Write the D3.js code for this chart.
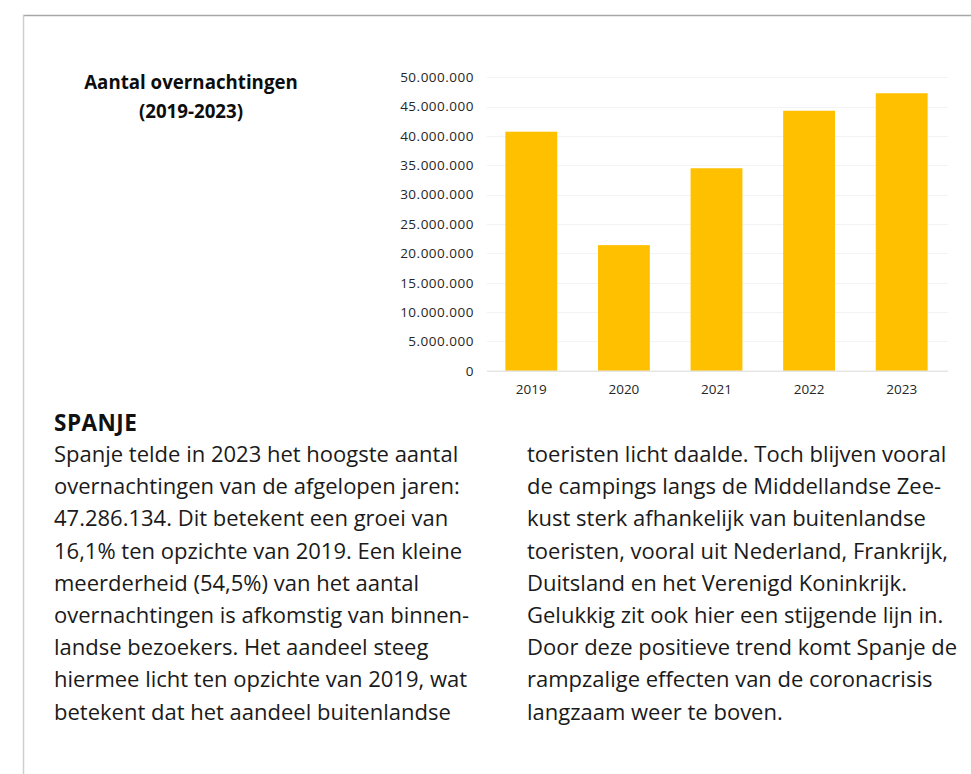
<!DOCTYPE html>
<meta charset="utf-8">
<script src="https://d3js.org/d3.v7.min.js"></script>
<style>
  body { margin: 0; background: #fff; }
  svg text { font-family: "Open Sans", sans-serif; }
</style>
<div id="my_dataviz"></div>
<script>

// data
var years = ["2019", "2020", "2021", "2022", "2023"];
var overnachtingen = [40730000, 21400000, 34500000, 44300000, 47286134];
var yTicks = [0, 5000000, 10000000, 15000000, 20000000, 25000000, 30000000, 35000000, 40000000, 45000000, 50000000];

var titleLines = ["Aantal overnachtingen", "(2019-2023)"];
var heading = "SPANJE";
var column1 = [
  "Spanje telde in 2023 het hoogste aantal",
  "overnachtingen van de afgelopen jaren:",
  "47.286.134. Dit betekent een groei van",
  "16,1% ten opzichte van 2019. Een kleine",
  "meerderheid (54,5%) van het aantal",
  "overnachtingen is afkomstig van binnen-",
  "landse bezoekers. Het aandeel steeg",
  "hiermee licht ten opzichte van 2019, wat",
  "betekent dat het aandeel buitenlandse"
];
var column2 = [
  "toeristen licht daalde. Toch blijven vooral",
  "de campings langs de Middellandse Zee-",
  "kust sterk afhankelijk van buitenlandse",
  "toeristen, vooral uit Nederland, Frankrijk,",
  "Duitsland en het Verenigd Koninkrijk.",
  "Gelukkig zit ook hier een stijgende lijn in.",
  "Door deze positieve trend komt Spanje de",
  "rampzalige effecten van de coronacrisis",
  "langzaam weer te boven."
];

var W = 971, H = 774;

var svg = d3.select("#my_dataviz")
  .append("svg")
    .attr("width", W)
    .attr("height", H);

// page frame (top + left rule)
svg.append("line")
  .attr("x1", 23).attr("x2", W).attr("y1", 15.5).attr("y2", 15.5)
  .style("stroke", "#a6a6a6").style("stroke-width", 1.5);
svg.append("line")
  .attr("x1", 23.5).attr("x2", 23.5).attr("y1", 15).attr("y2", H)
  .style("stroke", "#cfcfcf").style("stroke-width", 1.5);

// title
svg.selectAll("text.title")
  .data(titleLines)
  .enter()
  .append("text")
    .attr("class", "title")
    .attr("x", 191)
    .attr("y", function(d, i) { return 89 + i * 29; })
    .attr("text-anchor", "middle")
    .style("font-size", "18.7px")
    .style("font-weight", "bold")
    .style("fill", "#0d0d0d")
    .text(function(d) { return d; });

// scales
var x = d3.scaleBand()
  .domain(years)
  .range([485, 948])
  .paddingInner(0.44)
  .paddingOuter(0.22);

var y = d3.scaleLinear()
  .domain([0, 50000000])
  .range([370.7, 77.3]);

var fmt = function(v) { return d3.format(",")(v).replace(/,/g, "."); };

// gridlines
svg.append("g")
  .selectAll("line")
  .data(yTicks.slice(1))
  .enter()
  .append("line")
    .attr("x1", 487).attr("x2", 948)
    .attr("y1", function(d) { return Math.round(y(d)) + 0.5; })
    .attr("y2", function(d) { return Math.round(y(d)) + 0.5; })
    .style("stroke", "#f3f3f3");

// y axis labels
var yAxis = svg.append("g")
  .attr("transform", "translate(474,0)")
  .call(d3.axisLeft(y).tickValues(yTicks).tickFormat(fmt).tickSize(0).tickPadding(0));
yAxis.select(".domain").remove();
yAxis.selectAll("text")
  .style("font-family", "'Open Sans', sans-serif")
  .style("font-size", "13.5px")
  .style("letter-spacing", "0.5px")
  .style("fill", "#262626");

// bars
svg.append("g")
  .selectAll("rect")
  .data(years)
  .enter()
  .append("rect")
    .attr("x", function(d) { return x(d); })
    .attr("width", x.bandwidth())
    .attr("y", function(d, i) { return y(overnachtingen[i]); })
    .attr("height", function(d, i) { return y(0) - y(overnachtingen[i]); })
    .style("fill", "#ffc000");

// x axis
var xAxis = svg.append("g")
  .attr("transform", "translate(0," + y(0) + ")")
  .call(d3.axisBottom(x).tickSize(0).tickPadding(14));
xAxis.select(".domain")
  .attr("d", "M487,0.5H948")
  .style("stroke", "#d9d9d9");
xAxis.selectAll("text")
  .style("font-family", "'Open Sans', sans-serif")
  .style("font-size", "13.5px")
  .style("fill", "#262626");

// body text
svg.append("text")
  .attr("x", 54)
  .attr("y", 431)
  .style("font-size", "22.5px")
  .style("font-weight", "bold")
  .style("letter-spacing", "0.5px")
  .style("fill", "#111")
  .text(heading);

function column(lines, x0) {
  svg.append("g")
    .selectAll("text")
    .data(lines)
    .enter()
    .append("text")
      .attr("x", x0)
      .attr("y", function(d, i) { return 462 + i * 32.2; })
      .style("font-size", "22px")
      .style("fill", "#1a1a1a")
      .text(function(d) { return d; });
}
column(column1, 54);
column(column2, 527);

</script>
